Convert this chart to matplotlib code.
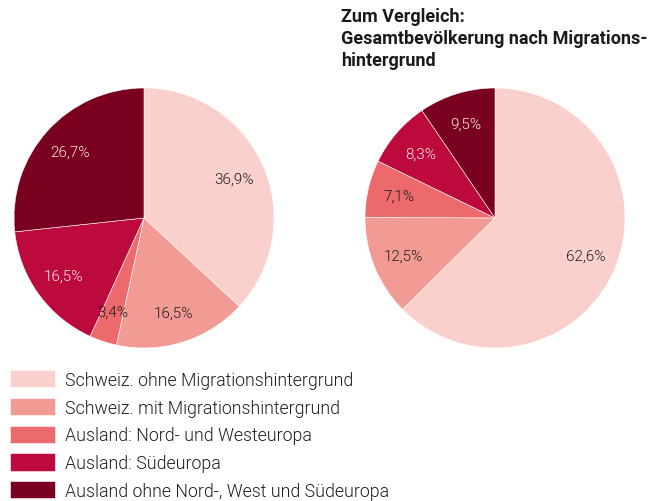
import matplotlib.pyplot as plt

plt.rcParams["font.family"] = ["Roboto", "DejaVu Sans"]

categories = [
    "Schweiz. ohne Migrationshintergrund",
    "Schweiz. mit Migrationshintergrund",
    "Ausland: Nord- und Westeuropa",
    "Ausland: Südeuropa",
    "Ausland ohne Nord-, West und Südeuropa",
]
left_values = [36.9, 16.5, 3.4, 16.5, 26.7]
right_values = [62.6, 12.5, 7.1, 8.3, 9.5]
colors = ["#F9D0CB", "#F29A94", "#EC6A6B", "#BC0A3F", "#790021"]
text_colors = ["#1e1e1e", "#1e1e1e", "#1e1e1e", "#FBE8EC", "#FBE8EC"]
title = "Zum Vergleich:\nGesamtbevölkerung nach Migrations-\nhintergrund"

fig = plt.figure(figsize=(6.63, 5.02), dpi=100)
W, H = 663, 502
R = 130


def draw_pie(cx, cy, values):
    ax = fig.add_axes([(cx - R) / W, 1 - (cy + R) / H, 2 * R / W, 2 * R / H])
    wedges, _, autotexts = ax.pie(
        values, colors=colors, startangle=90, counterclock=False,
        autopct=lambda p: f"{p:.1f}%".replace(".", ","), pctdistance=0.76,
        wedgeprops=dict(edgecolor="white", linewidth=0.4),
        textprops=dict(fontsize=11, fontweight=300),
    )
    for t, c in zip(autotexts, text_colors):
        t.set_color(c)
    ax.set_xlim(-1, 1)
    ax.set_ylim(-1, 1)
    return wedges


wedges = draw_pie(144, 219, left_values)
draw_pie(495, 219, right_values)

fig.text(341 / W, 1 - 8 / H, title, ha="left", va="top", fontsize=13,
         fontweight="bold", color="#1a1a1a", linespacing=1.28)

fig.legend(wedges, categories, loc="upper left",
           bbox_to_anchor=(3 / W, 1 - 364 / H), frameon=False,
           handlelength=2.55, handleheight=1.12,
           handletextpad=0.55, labelspacing=0.51, borderaxespad=0,
           prop=dict(size=12.8, weight=300), labelcolor="#1e1e1e")

fig.savefig("out.png", dpi=100)
